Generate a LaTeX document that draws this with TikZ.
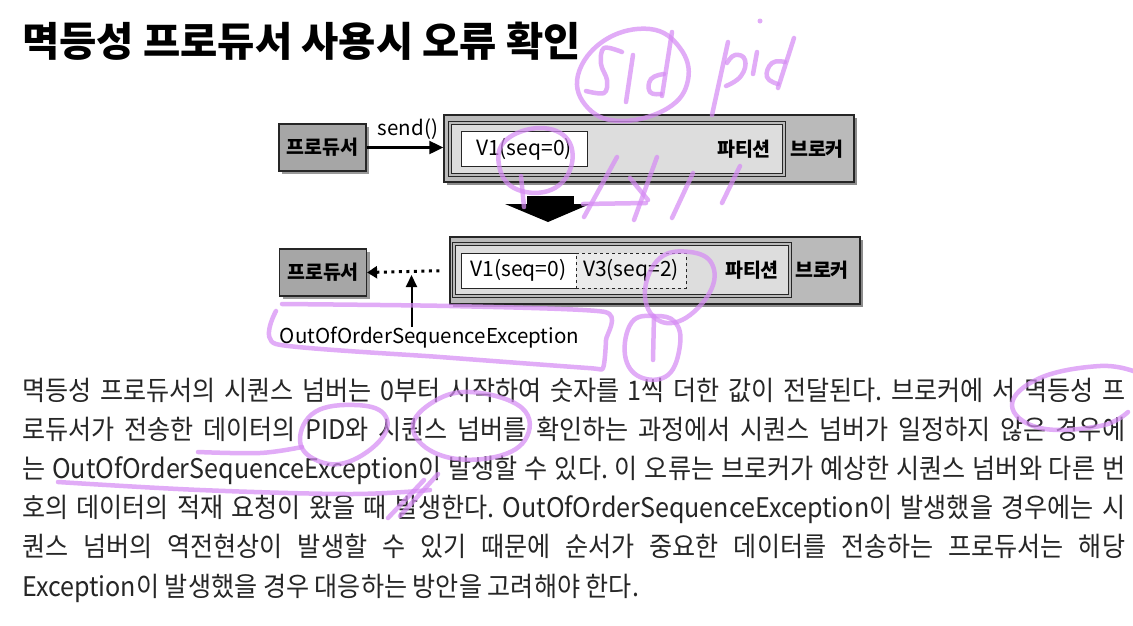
\documentclass[tikz,border=0pt]{standalone}
\usepackage{fontspec}
\setmainfont{Noto Sans CJK KR}
\newfontfamily\bodyfont{Noto Sans CJK KR}[FakeStretch=0.93]
\frenchspacing
\usetikzlibrary{arrows.meta}
\usetikzlibrary{shadows}
\definecolor{prodgray}{RGB}{166,166,166}
\definecolor{brokergray}{RGB}{186,186,186}
\definecolor{partgray}{RGB}{221,221,221}
\definecolor{penviolet}{RGB}{214,140,244}

\begin{document}
\begin{tikzpicture}[x=1pt, y=-1pt] % one unit = one pixel of the slide, y goes down
    \tikzstyle{prod}=[draw=black!85, line width=1.2pt, fill=prodgray, minimum width=87pt, minimum height=47pt, inner sep=0pt, font=\bfseries\fontsize{19.5}{21}\selectfont, drop shadow={shadow xshift=3pt, shadow yshift=-3pt, fill=black!40, opacity=1}]
    \tikzstyle{broker}=[draw=black!85, line width=1.4pt, fill=brokergray, minimum width=410pt, minimum height=67pt, inner sep=0pt, drop shadow={shadow xshift=3pt, shadow yshift=-3pt, fill=black!45, opacity=1}]
    \tikzstyle{part}=[draw=black!85, line width=0.8pt, double=brokergray, double distance=2pt, fill=partgray, minimum height=52pt, inner sep=0pt]
    \tikzstyle{msg}=[draw=black!85, line width=1pt, fill=white, minimum height=35pt, inner sep=0pt, font=\fontsize{21}{23}\selectfont]
    \tikzstyle{lbl}=[inner sep=0pt, font=\bfseries\fontsize{19.5}{21}\selectfont]
    \tikzstyle{body}=[anchor=base west, inner sep=0pt, text=black!85, font=\bodyfont\fontsize{27}{31}\selectfont]
    \tikzstyle{scribble}=[draw=penviolet, line width=4.5pt, line cap=round, line join=round, opacity=0.72]
    \useasboundingbox[fill=white] (0,0) rectangle (1133,625);

    % title
    \node[anchor=base west, inner sep=0pt, font=\bfseries\fontsize{40.5}{44}\selectfont] (title) at (22,56) {멱등성 프로듀서 사용시 오류 확인};

    % upper row: send
    \node[prod] (prod1) at (322.5,147.5) {프로듀서};
    \node[broker] (broker1) at (649,148.5) {};
    \node[part, minimum width=334pt] (part1) at (617,149) {};
    \node[msg, minimum width=126pt] (v1a) at (524,149) {V1(seq=0)};
    \node[lbl] (plbl1) at (744,149) {파티션};
    \node[lbl] (blbl1) at (817,149) {브로커};
    \node[inner sep=0pt, font=\fontsize{20.5}{22}\selectfont] (sendlbl) at (408,129) {send()};
    \draw[line width=2.2pt, -{Triangle[length=14pt, width=13pt]}] (prod1.east) -- (prod1.east -| broker1.west);

    % block arrow between the rows
    \fill[black] (527,196) rectangle (574,204);
    \fill[black] (505,204) -- (590,204) -- (548,222) -- cycle;

    % lower row: duplicate
    \node[prod] (prod2) at (323,272.5) {프로듀서};
    \node[broker] (broker2) at (655,270.5) {};
    \node[part, minimum width=336pt] (part2) at (622,270) {};
    \node[msg, minimum width=115pt] (v1b) at (518.5,270.5) {V1(seq=0)};
    \node[msg, minimum width=110pt, dashed, fill=partgray!60] (v3b) at (631,270.5) {V3(seq=2)};
    \node[lbl] (plbl2) at (752,270) {파티션};
    \node[lbl] (blbl2) at (822,270) {브로커};
    \node[inner sep=0pt, font=\fontsize{20.5}{22}\selectfont] (exc) at (429.5,338) {OutOfOrderSequenceException};
    \coordinate (hit) at (411.5,275);
    \draw[line width=3pt, dash pattern=on 3pt off 4.5pt, shorten <=10pt, -{Triangle[length=10pt, width=12pt]}] (broker2.west) -- (prod2.east);
    \draw[line width=2pt, -{Triangle[length=12pt, width=11pt]}] (exc.north -| hit) -- (hit);

    % body text
    \foreach \i/\txt in {0/{멱등성 프로듀서의 시퀀스 넘버는 0부터 시작하여 숫자를 1씩 더한 값이 전달된다. 브로커에 서 멱등성 프},
                         1/{로듀서가 전송한 데이터의 PID와 시퀀스 넘버를 확인하는 과정에서 시퀀스 넘버가 일정하지 않은 경우에},
                         2/{는 OutOfOrderSequenceException이 발생할 수 있다. 이 오류는 브로커가 예상한 시퀀스 넘버와 다른 번},
                         3/{호의 데이터의 적재 요청이 왔을 때 발생한다. OutOfOrderSequenceException이 발생했을 경우에는 시},
                         4/{퀀스 넘버의 역전현상이 발생할 수 있기 때문에 순서가 중요한 데이터를 전송하는 프로듀서는 해당}} {
        \node[body] (line\i) at (22,400+39.2*\i) {\makebox[1103pt][s]{\txt}};
    }
    \node[body] (line5) at (22,596) {Exception이 발생했을 경우 대응하는 방안을 고려해야 한다.};

    % handwritten marks
    \draw[scribble] plot[smooth cycle, tension=0.7] coordinates {(650,29) (605,40) (578,75) (588,108) (622,121) (668,108) (688,80) (680,48)};
    \draw[scribble] plot[smooth, tension=0.6] coordinates {(622,52) (604,48) (601,64) (607,80) (604,93) (586,91)};
    \draw[scribble] (633,55) -- (626,102);
    \draw[scribble] (672,32) -- (662,96);
    \draw[scribble] plot[smooth, tension=0.8] coordinates {(664,74) (651,79) (650,92) (661,94)};
    \draw[scribble] (728,42) -- (712,115);
    \draw[scribble] plot[smooth, tension=0.8] coordinates {(726,86) (741,76) (745,60) (735,55) (727,63)};
    \draw[scribble] (757,52) -- (753,74);
    \fill[penviolet, opacity=0.72] (760,21) circle (2.5pt);
    \draw[scribble] (794,38) -- (778,88);
    \draw[scribble] plot[smooth, tension=0.8] coordinates {(785,62) (772,63) (767,77) (778,84)};
    \draw[scribble] plot[smooth cycle, tension=0.7] coordinates {(540,128) (506,140) (499,165) (514,188) (548,191) (570,170) (568,140)};
    \draw[scribble] (521,176) -- (524,207);
    \foreach \a/\b in {{(617,157)}/{(584,217)}, {(657,157)}/{(634,220)}, {(630,178)}/{(648,200)}, {(693,173)}/{(672,218)}, {(740,166)}/{(722,203)}, {(583,204)}/{(646,203)}} {
        \draw[scribble] \a -- \b;
    }
    \draw[scribble] plot[smooth cycle, tension=0.7] coordinates {(690,252) (660,258) (645,290) (655,318) (682,320) (710,292) (712,264)};
    \draw[scribble] plot[smooth cycle, tension=0.7] coordinates {(655,316) (632,322) (625,355) (640,377) (668,375) (680,345) (675,322)};
    \draw[scribble] (653,360) -- (654,316);
    \draw[scribble] plot[smooth, tension=0.35] coordinates {(282,304) (450,306) (605,312) (606,340) (603,368) (588,368) (440,357) (276,344) (276,311)};
    \draw[scribble] plot[smooth cycle, tension=0.7] coordinates {(470,392) (430,404) (413,430) (440,455) (490,458) (525,440) (522,408)};
    \draw[scribble] plot[smooth cycle, tension=0.7] coordinates {(382,438) (384,414) (355,405) (315,412) (300,440) (316,460) (348,462)};
    \draw[scribble] plot[smooth, tension=0.6] coordinates {(198,452) (260,453) (302,447)};
    \draw[scribble] plot[smooth, tension=0.6] coordinates {(58,482) (200,490) (350,494) (430,490)};
    \draw[scribble] (438,474) -- (400,516);
    \draw[scribble] (424,480) -- (388,518);
    \draw[scribble] plot[smooth, tension=0.7] coordinates {(1136,372) (1100,366) (1040,378) (1012,405) (1040,428) (1100,426) (1128,412)};
\end{tikzpicture}
\end{document}
